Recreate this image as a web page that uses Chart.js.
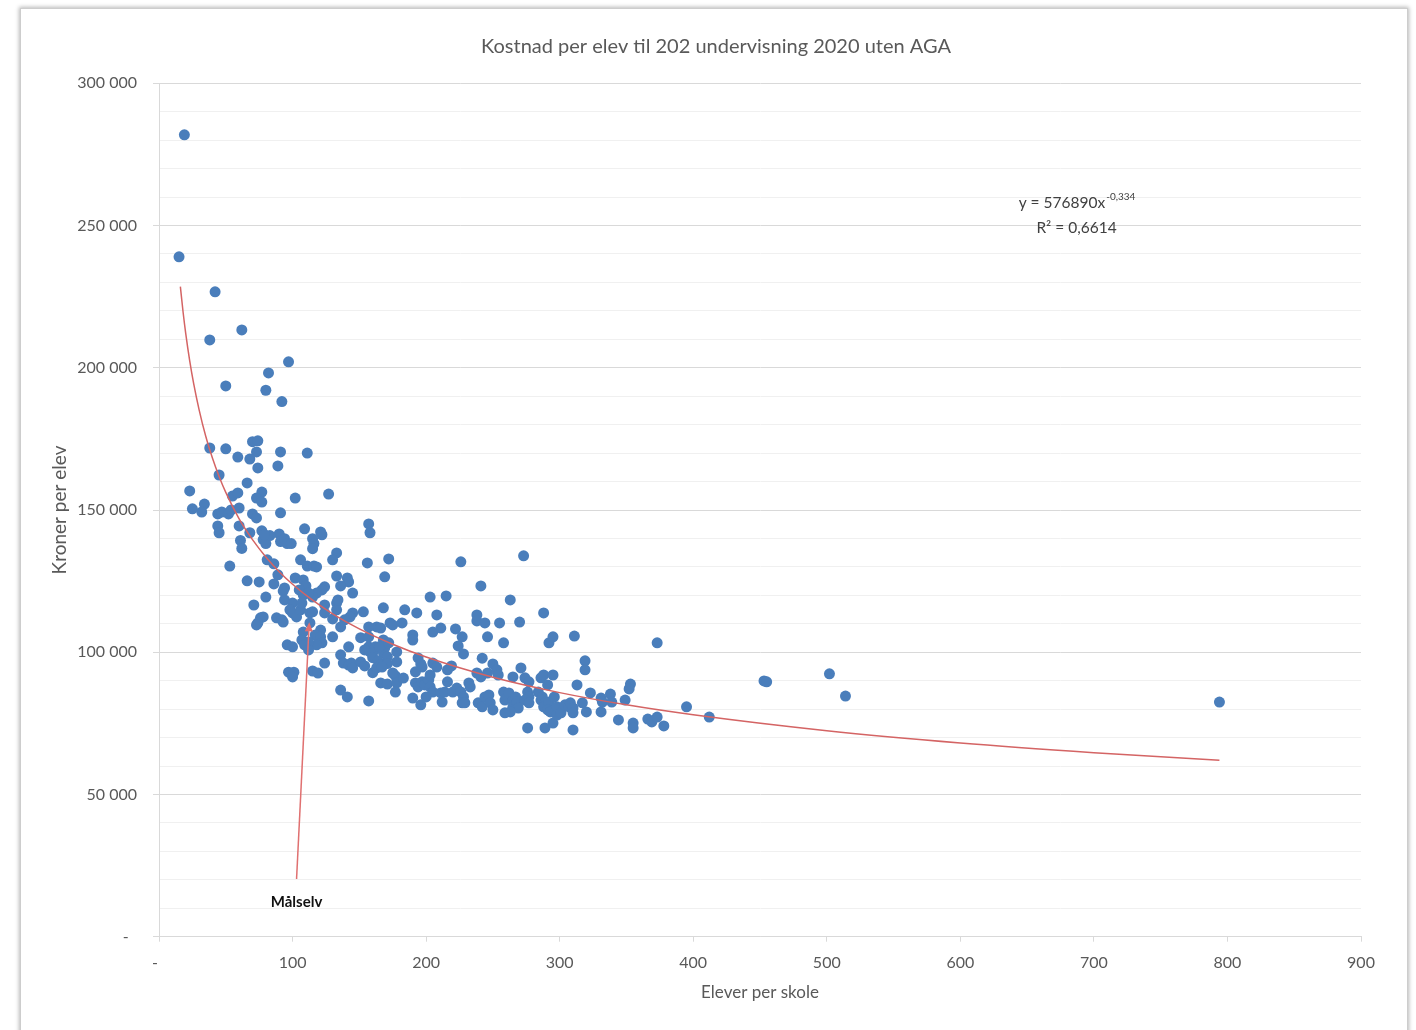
<!DOCTYPE html>
<html><head><meta charset="utf-8">
<script src="https://cdn.jsdelivr.net/npm/chart.js@4.4.1/dist/chart.umd.min.js"></script>
<style>
html,body{margin:0;padding:0;background:#fff;overflow:hidden;width:1416px;height:1030px;}
#frame{position:absolute;left:20px;top:8px;width:1386px;height:1100px;border:1px solid #cdcdcd;box-shadow:0 0 4px 1px rgba(0,0,0,0.28);background:#fff;}
#c{position:absolute;left:0;top:0;}
</style></head><body>
<div id="frame"></div>
<canvas id="c" width="1416" height="1030"></canvas>
<script>
// ---- Data ----
const chartTitle = 'Kostnad per elev til 202 undervisning 2020 uten AGA';
const xAxisTitle = 'Elever per skole';
const yAxisTitle = 'Kroner per elev';

// Elever per skole
const schoolSize = [19,15,42,62,38,97,82,50,80,92,
70,74,38,50,73,91,111,59,68,74,89,45,66,23,55,59,77,73,77,102,127,25,34,32,44,47,52,54,60,70,73,91,44,45,60,68,77,90,109,121,122,157,158,
61,62,78,80,83,79,91,94,96,99,115,116,115,53,81,86,106,111,116,118,133,130,89,66,75,86,102,108,110,133,141,142,136,94,156,172,226,169,145,124,122,118,115,105,108,112,80,93,94,241,273,203,215,263,
71,100,98,100,103,106,107,113,115,124,124,133,133,134,145,143,139,153,168,184,193,208,205,211,190,190,76,78,74,73,88,92,93,113,130,136,121,117,121,122,118,108,107,112,109,130,142,151,157,157,154,158,162,160,163,166,168,169,168,171,173,175,178,178,182,96,100,112,238,238,244,222,227,224,228,246,255,270,288,258,292,295,311,373,242,165,172,
136,138,142,144,145,151,160,164,166,171,154,160,163,167,136,141,157,166,171,177,178,177,183,175,190,192,194,197,199,202,203,205,196,200,194,196,197,192,203,205,208,216,219,211,212,214,216,220,223,226,228,227,229,232,233,238,241,246,250,253,254,239,242,244,247,248,250,258,259,262,265,265,267,268,269,263,259,265,271,274,277,276,277,274,277,276,286,288,295,291,284,287,286,289,288,292,291,293,296,298,289,295,298,301,304,307,308,310,310,310,319,319,313,317,320,323,331,331,332,338,339,349,344,353,352,355,355,366,369,373,378,395,412,453,455,502,514,794,
97,101,100,115,119,124,157];

// Kroner per elev
const costPerStudent = [281900,239000,226700,213300,209800,202100,198200,193600,192100,188100,
174000,174300,171800,171500,170400,170400,170000,168600,167900,164800,165500,162300,159500,156700,154900,156000,156300,154200,152800,154200,155600,150400,152100,149300,148600,149300,148600,150000,150700,148600,147200,149000,144400,142000,144400,142000,142700,141600,143400,142300,141300,145100,142000,
139300,136500,139600,138200,141000,141300,138900,139900,138200,138200,139900,138200,136400,130300,132500,131100,132500,130300,130300,130000,134900,132500,127200,125100,124700,124000,126100,125400,123300,126800,126100,124700,123300,122600,131400,132800,131800,126500,120800,123000,121900,120800,119400,121900,120100,120800,119400,121500,118400,123300,133900,119400,119800,118400,
116600,117300,114900,113800,112400,114900,117300,113800,114200,116600,113800,117300,114900,118400,113800,112400,111400,114200,115600,114900,113800,113100,107100,108500,106100,104300,112100,112400,110300,109600,112100,111400,110600,110300,111700,108900,107800,106100,105400,103300,102600,107100,104300,103600,102600,105400,101900,105100,105400,101900,100800,100100,101900,99800,108900,108500,104300,101500,99800,98400,110300,109600,100100,96600,110300,102600,101900,100800,113100,111000,110300,108200,105400,102200,99400,105400,110300,110600,113800,103300,103300,105400,105700,103300,97900,101900,103300,
99100,96200,95500,96200,94500,96600,98100,97000,95600,96000,95200,92800,94500,94800,86700,84300,82900,89200,88800,91700,89200,86000,90900,92700,83900,89200,87800,89600,88500,90300,87800,86000,81500,84300,98000,95900,94800,93100,92000,96200,94800,93800,95200,85700,82500,86000,89600,86000,87400,86000,84300,82200,82200,89200,87800,92700,91300,92700,95900,93800,92000,82200,80800,84300,85000,82200,79700,86000,83200,85700,83200,80800,84300,82500,80400,79000,78700,91300,94500,91000,89600,86000,84300,83200,82200,73400,91000,92000,92000,88500,86000,84300,83200,82200,80800,82500,79700,79000,84300,80800,73400,75100,77900,78700,81500,80800,82200,80400,78700,72700,97000,93800,88500,82200,79000,85700,79000,83900,82500,85300,82500,83200,76200,88800,87100,75100,73400,76500,75500,77200,74100,80800,77200,89900,89600,92400,84600,82500,
93000,93000,91300,93400,92700,96200,108900];

// Power trendline (y = 576890x^-0,334)
const trendX = [16,18,20,23,26,30,35,40,45,50,60,70,80,90,100,115,130,150,175,200,250,300,350,400,500,600,700,794];
const trendY = [228500,219700,212100,202400,194300,185300,175900,168300,161800,156200,146900,139600,133500,128300,123900,118300,113500,108200,102800,98300,91200,85800,81500,78000,72400,68100,64700,62000];

const equationText = 'y = 576890x';
const equationExp = '-0,334';
const r2Text = 'R² = 0,6614';
const calloutText = 'Målselv';

// annotation anchors in data units
const arrowTail = {x:103, y:20300};
const arrowHead = {x:112.5, y:110500};
const calloutAt = {x:103, y:12200};
const equationAt = {x:687, y:258000};

const xTicks = {min:0, max:900, step:100};
const yTicks = {min:0, max:300000, step:10000, major:50000};

// ---- helpers ----
function fmtThousands(v){ return String(v).replace(/\B(?=(\d{3})+(?!\d))/g,' '); }
const FONT = 'Lato, "Open Sans", sans-serif';
const TXT = '#595959';

const scatterPoints = schoolSize.map((s,i)=>({x:s, y:costPerStudent[i]}));
const trendPoints = trendX.map((s,i)=>({x:s, y:trendY[i]}));

const annotPlugin = {
  id:'annot',
  afterDatasetsDraw(chart){
    const {ctx, scales:{x, y}} = chart;
    ctx.save();
    // arrow
    const x0=x.getPixelForValue(arrowTail.x), y0=y.getPixelForValue(arrowTail.y);
    const x1=x.getPixelForValue(arrowHead.x), y1=y.getPixelForValue(arrowHead.y);
    const ang=Math.atan2(y1-y0, x1-x0), hl=9, hw=4;
    const bx=x1-hl*Math.cos(ang), by=y1-hl*Math.sin(ang);
    ctx.strokeStyle='#e07070'; ctx.fillStyle='#e07070'; ctx.lineWidth=1.5;
    ctx.beginPath(); ctx.moveTo(x0,y0); ctx.lineTo(bx,by); ctx.stroke();
    ctx.beginPath(); ctx.moveTo(x1,y1);
    ctx.lineTo(bx - hw*Math.sin(ang), by + hw*Math.cos(ang));
    ctx.lineTo(bx + hw*Math.sin(ang), by - hw*Math.cos(ang));
    ctx.closePath(); ctx.fill();
    // callout label
    ctx.fillStyle='#111'; ctx.font='bold 15px '+FONT; ctx.textAlign='center'; ctx.textBaseline='middle';
    ctx.fillText(calloutText, x.getPixelForValue(calloutAt.x), y.getPixelForValue(calloutAt.y));
    // equation
    const ex=x.getPixelForValue(equationAt.x), ey=y.getPixelForValue(equationAt.y);
    ctx.fillStyle='#404040';
    ctx.font='15.5px '+FONT;
    const w1=ctx.measureText(equationText).width;
    ctx.font='10px '+FONT;
    const w2=ctx.measureText(equationExp).width;
    const start=ex-(w1+w2)/2;
    ctx.textAlign='left'; ctx.textBaseline='middle';
    ctx.font='15.5px '+FONT; ctx.fillText(equationText, start, ey);
    ctx.font='10px '+FONT; ctx.fillText(equationExp, start+w1+1, ey-6);
    ctx.font='15.5px '+FONT; ctx.textAlign='center';
    ctx.fillText(r2Text, ex, ey+25);
    ctx.restore();
  }
};

new Chart(document.getElementById('c'), {
  type:'scatter',
  data:{datasets:[
    {type:'line', label:'Trend', data:trendPoints, borderColor:'#d46464', borderWidth:1.5, pointRadius:0, fill:false, tension:0.4, cubicInterpolationMode:'monotone', order:0},
    {label:'Skoler', data:scatterPoints, backgroundColor:'#4a7ebb', pointBackgroundColor:'#4a7ebb', pointRadius:5.5, pointBorderWidth:0, borderWidth:0, order:1}
  ]},
  options:{
    responsive:false, animation:false, devicePixelRatio:1,
    layout:{padding:{left:16,right:0,top:0,bottom:0}},
    plugins:{
      legend:{display:false}, tooltip:{enabled:false},
      title:{display:true, text:chartTitle, color:TXT, font:{family:FONT,size:20,weight:'normal'}, padding:{top:35,bottom:24.3}}
    },
    scales:{
      x:{type:'linear', min:xTicks.min, max:xTicks.max,
        ticks:{stepSize:xTicks.step, autoSkip:false, maxRotation:0, color:TXT, font:{family:FONT,size:16}, padding:12,
          callback:(v)=> v===0 ? '-  ' : String(v)},
        grid:{drawOnChartArea:false, drawTicks:true, tickLength:5, tickColor:'#d9d9d9'},
        border:{color:'#d9d9d9', width:1},
        title:{display:true, text:xAxisTitle, color:TXT, font:{family:FONT,size:17}, padding:{top:0,bottom:26.8}},
        afterFit:(s)=>{ s.height = 93.3; }
      },
      y:{type:'linear', min:yTicks.min, max:yTicks.max,
        ticks:{stepSize:yTicks.step, autoSkip:false, color:TXT, font:{family:FONT,size:16}, padding:16,
          callback:(v)=> v % yTicks.major === 0 ? (v===0 ? '-  ' : fmtThousands(v)) : ''},
        grid:{color:(c)=> (c.tick && c.tick.value % yTicks.major === 0) ? '#d9d9d9' : '#f0f0f0',
              tickColor:(c)=> (c.tick && c.tick.value % yTicks.major === 0) ? '#d9d9d9' : 'rgba(0,0,0,0)',
              tickLength:6},
        border:{color:'#d9d9d9', width:1},
        title:{display:true, text:yAxisTitle, color:TXT, font:{family:FONT,size:19}, padding:{top:32.6,bottom:0}},
        afterFit:(s)=>{ s.width = 143; }
      },
      yRight:{type:'linear', position:'right', min:yTicks.min, max:yTicks.max,
        ticks:{display:false}, grid:{display:false, drawOnChartArea:false, drawTicks:false}, border:{display:false},
        title:{display:false},
        afterFit:(s)=>{ s.width = 55; }
      }
    }
  },
  plugins:[annotPlugin]
});
</script></body></html>
